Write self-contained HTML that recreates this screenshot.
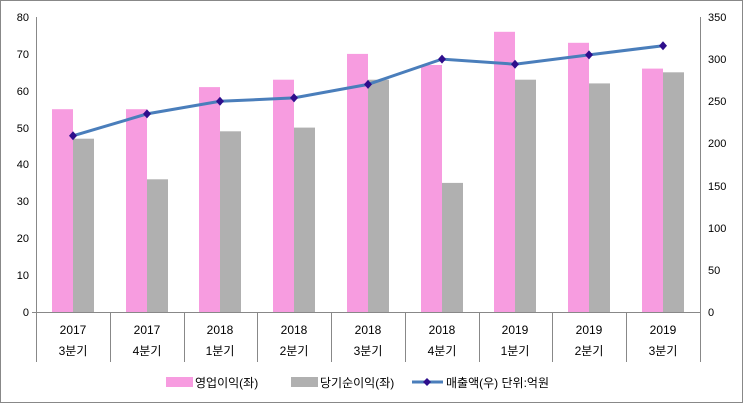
<!DOCTYPE html><html><head><style>body{margin:0;background:#fff}svg{display:block;font-family:"Liberation Sans","Noto Sans CJK KR",sans-serif}</style></head><body>
<svg width="743" height="403" viewBox="0 0 743 403">
<rect x="0.5" y="0.5" width="742" height="402" fill="#fff" stroke="#888"/>
<g stroke="#888" stroke-width="1">
<line x1="36.5" y1="17" x2="36.5" y2="312"/><line x1="700.5" y1="17" x2="700.5" y2="312"/>
<line x1="36" y1="312.5" x2="700" y2="312.5"/>
</g>
<g font-size="11" fill="#000" text-anchor="end">
<text x="29" y="316">0</text><text x="29" y="279">10</text><text x="29" y="242">20</text><text x="29" y="205">30</text><text x="29" y="168">40</text><text x="29" y="132">50</text><text x="29" y="95">60</text><text x="29" y="58">70</text><text x="29" y="21">80</text>
</g>
<g font-size="11" fill="#000" text-anchor="start">
<text x="708" y="316">0</text><text x="708" y="274">50</text><text x="708" y="232">100</text><text x="708" y="190">150</text><text x="708" y="147">200</text><text x="708" y="105">250</text><text x="708" y="63">300</text><text x="708" y="21">350</text>
</g>
<g stroke="#888"><line x1="32" y1="312.5" x2="36" y2="312.5"/></g>
<g fill="#f79ce0">
<rect x="52" y="109.2" width="21" height="202.8"/>
<rect x="126" y="109.2" width="21" height="202.8"/>
<rect x="199" y="87.1" width="21" height="224.9"/>
<rect x="273" y="79.7" width="21" height="232.3"/>
<rect x="347" y="53.9" width="21" height="258.1"/>
<rect x="421" y="65" width="21" height="247"/>
<rect x="494" y="31.8" width="21" height="280.2"/>
<rect x="568" y="42.8" width="21" height="269.2"/>
<rect x="642" y="68.6" width="21" height="243.4"/>
</g>
<g fill="#b0b0b0">
<rect x="73" y="138.7" width="21" height="173.3"/>
<rect x="147" y="179.3" width="21" height="132.7"/>
<rect x="220" y="131.3" width="21" height="180.7"/>
<rect x="294" y="127.6" width="21" height="184.4"/>
<rect x="368" y="79.7" width="21" height="232.3"/>
<rect x="442" y="182.9" width="21" height="129.1"/>
<rect x="515" y="79.7" width="21" height="232.3"/>
<rect x="589" y="83.4" width="21" height="228.6"/>
<rect x="663" y="72.3" width="21" height="239.7"/>
</g>
<polyline fill="none" stroke="#4a7ebb" stroke-width="3" points="73,135.8 147,113.9 220,101.3 294,97.9 368,84.4 442,59.1 515,64.2 589,54.9 663,45.7"/>
<g fill="#2e0e8c">
<path d="M73,131.3l4,4.5l-4,4.5l-4,-4.5z"/><path d="M147,109.4l4,4.5l-4,4.5l-4,-4.5z"/><path d="M220,96.8l4,4.5l-4,4.5l-4,-4.5z"/><path d="M294,93.4l4,4.5l-4,4.5l-4,-4.5z"/><path d="M368,79.9l4,4.5l-4,4.5l-4,-4.5z"/><path d="M442,54.6l4,4.5l-4,4.5l-4,-4.5z"/><path d="M515,59.7l4,4.5l-4,4.5l-4,-4.5z"/><path d="M589,50.4l4,4.5l-4,4.5l-4,-4.5z"/><path d="M663,41.2l4,4.5l-4,4.5l-4,-4.5z"/>
</g>
<g stroke="#888"><line x1="36.5" y1="312" x2="36.5" y2="362"/><line x1="110.5" y1="312" x2="110.5" y2="362"/><line x1="184.5" y1="312" x2="184.5" y2="362"/><line x1="257.5" y1="312" x2="257.5" y2="362"/><line x1="331.5" y1="312" x2="331.5" y2="362"/><line x1="405.5" y1="312" x2="405.5" y2="362"/><line x1="479.5" y1="312" x2="479.5" y2="362"/><line x1="552.5" y1="312" x2="552.5" y2="362"/><line x1="626.5" y1="312" x2="626.5" y2="362"/><line x1="700.5" y1="312" x2="700.5" y2="362"/></g>
<g font-size="12" fill="#000" text-anchor="middle">
<text x="73" y="334">2017</text><text x="73" y="355">3분기</text>
<text x="147" y="334">2017</text><text x="147" y="355">4분기</text>
<text x="220" y="334">2018</text><text x="220" y="355">1분기</text>
<text x="294" y="334">2018</text><text x="294" y="355">2분기</text>
<text x="368" y="334">2018</text><text x="368" y="355">3분기</text>
<text x="442" y="334">2018</text><text x="442" y="355">4분기</text>
<text x="515" y="334">2019</text><text x="515" y="355">1분기</text>
<text x="589" y="334">2019</text><text x="589" y="355">2분기</text>
<text x="663" y="334">2019</text><text x="663" y="355">3분기</text>
</g>
<g font-size="12" fill="#000">
<rect x="166" y="377" width="27" height="10" fill="#f79ce0"/><text x="195" y="387">영업이익(좌)</text>
<rect x="291" y="377" width="27" height="10" fill="#b0b0b0"/><text x="320" y="387">당기순이익(좌)</text>
<line x1="412" y1="382" x2="443" y2="382" stroke="#4a7ebb" stroke-width="3"/><path d="M427,378l4,4l-4,4l-4,-4z" fill="#2e0e8c"/>
<text x="446" y="387">매출액(우)  단위:억원</text>
</g>
</svg></body></html>
